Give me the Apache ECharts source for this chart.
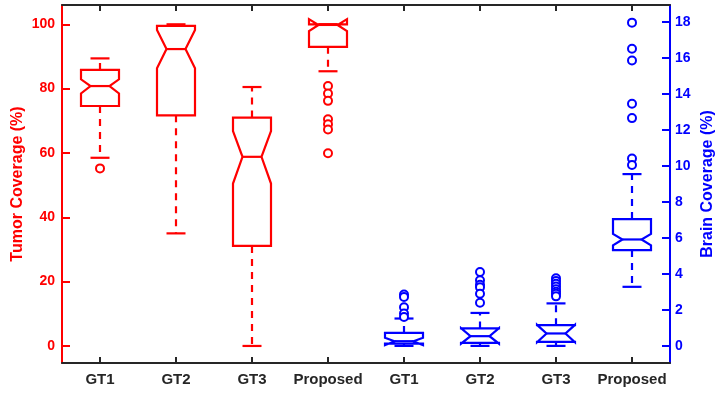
<!DOCTYPE html>
<html>
<head>
<meta charset="utf-8">
<script src="https://cdn.jsdelivr.net/npm/echarts@6/dist/echarts.min.js"></script>
<style>html,body{margin:0;padding:0;background:#fff;}#chart{width:722px;height:395px;}</style>
</head>
<body>
<div id="chart"></div>
<script>
// ---- data ----
const categories = ['GT1', 'GT2', 'GT3', 'Proposed', 'GT1', 'GT2', 'GT3', 'Proposed'];

// Tumor coverage (left axis, red) – first four categories
const tumorLow     = [58.5, 35.0, 0.0, 85.4];
const tumorQ1      = [74.6, 71.7, 31.1, 93.0];
const tumorNotchLo = [78.5, 86.3, 50.5, 97.9];
const tumorMedian  = [80.8, 92.3, 58.8, 99.8];
const tumorNotchHi = [82.9, 98.2, 66.8, 101.6];
const tumorQ3      = [85.8, 99.5, 71.0, 100.0];
const tumorHigh    = [89.4, 100.0, 80.5, 100.0];
const tumorOutliers = [[55.2], [], [], [80.8, 78.5, 76.2, 70.5, 68.9, 67.3, 59.9]];

// Brain coverage (right axis, blue) – last four categories
const brainLow     = [0.0, 0.0, 0.0, 3.28];
const brainQ1      = [0.13, 0.17, 0.22, 5.32];
const brainNotchLo = [0.04, 0.12, 0.20, 5.58];
const brainMedian  = [0.26, 0.54, 0.69, 5.91];
const brainNotchHi = [0.45, 0.99, 1.17, 6.22];
const brainQ3      = [0.72, 0.97, 1.15, 7.04];
const brainHigh    = [1.52, 1.83, 2.36, 9.54];
const brainOutliers = [[2.85, 2.72, 2.15, 1.8, 1.6], [4.1, 3.65, 3.4, 3.25, 2.9, 2.4],
  [3.75, 3.6, 3.45, 3.3, 3.15, 3.0, 2.9, 2.75], [17.95, 16.5, 15.85, 13.45, 12.65, 10.4, 10.05]];

const tumorTicks = [0, 20, 40, 60, 80, 100];
const brainTicks = [0, 2, 4, 6, 8, 10, 12, 14, 16, 18];

// ---- build ----
const RED = '#FF0000', BLUE = '#0000FF', DARK = '#262626';
const FONT = '"Liberation Sans", Arial, Helvetica, sans-serif';

function boxRows(offset, low, q1, nlo, med, nhi, q3, high) {
  return low.map((v, i) => [offset + i, low[i], q1[i], nlo[i], med[i], nhi[i], q3[i], high[i]]);
}
function outlierRows(offset, lists) {
  const rows = [];
  lists.forEach((l, i) => l.forEach(v => rows.push([offset + i, v])));
  return rows;
}

function makeRender(color) {
  return function (params, api) {
    const x = api.value(0);
    const v = k => api.value(k);
    const y = val => api.coord([x, val])[1];
    const cx = api.coord([x, v(4)])[0];
    const band = api.size([1, 0])[0];
    const hw = band * 0.25;
    const nw = hw * 0.5;
    const cw = hw * 0.5;
    const yLow = y(v(1)), yQ1 = y(v(2)), yNlo = y(v(3)), yMed = y(v(4)),
          yNhi = y(v(5)), yQ3 = y(v(6)), yHigh = y(v(7));
    const stroke = { stroke: color, lineWidth: 2.2, fill: null };
    const dash = { stroke: color, lineWidth: 2.2, lineDash: [7, 6], fill: null };
    const children = [];
    children.push({
      type: 'polygon',
      shape: { points: [
        [cx - hw, yQ1], [cx - hw, yNlo], [cx - nw, yMed], [cx - hw, yNhi], [cx - hw, yQ3],
        [cx + hw, yQ3], [cx + hw, yNhi], [cx + nw, yMed], [cx + hw, yNlo], [cx + hw, yQ1]
      ] },
      style: stroke
    });
    children.push({ type: 'line', shape: { x1: cx - nw, y1: yMed, x2: cx + nw, y2: yMed }, style: stroke });
    if (v(7) > v(6)) {
      children.push({ type: 'line', shape: { x1: cx, y1: yQ3, x2: cx, y2: yHigh }, style: dash });
    }
    if (v(1) < v(2)) {
      children.push({ type: 'line', shape: { x1: cx, y1: yQ1, x2: cx, y2: yLow }, style: dash });
    }
    children.push({ type: 'line', shape: { x1: cx - cw, y1: yHigh, x2: cx + cw, y2: yHigh }, style: stroke });
    children.push({ type: 'line', shape: { x1: cx - cw, y1: yLow, x2: cx + cw, y2: yLow }, style: stroke });
    return { type: 'group', children: children };
  };
}

const chart = echarts.init(document.getElementById('chart'), null, { renderer: 'canvas' });

const xCommon = {
  type: 'category',
  data: categories,
  boundaryGap: true,
  axisLine: { show: true, onZero: false, lineStyle: { color: DARK, width: 2 } },
  axisTick: { show: true, inside: true, alignWithLabel: true, interval: 0, length: 6, lineStyle: { color: DARK, width: 2 } },
  splitLine: { show: false }
};

chart.setOption({
  animation: false,
  backgroundColor: '#fff',
  grid: { left: 62, right: 52, top: 5, bottom: 32, containLabel: false, outerBoundsMode: 'none' },
  xAxis: [
    Object.assign({}, xCommon, {
      position: 'bottom',
      axisLabel: { interval: 0, color: DARK, fontWeight: 'bold', fontSize: 15, fontFamily: FONT, margin: 9 }
    }),
    Object.assign({}, xCommon, { position: 'top', axisLabel: { show: false } })
  ],
  yAxis: [
    {
      type: 'value', position: 'left', min: -5.3, max: 106,
      name: 'Tumor Coverage (%)', nameLocation: 'middle', nameGap: 36, nameRotate: 90, nameMoveOverlap: false,
      nameTextStyle: { color: RED, fontWeight: 'bold', fontSize: 16, fontFamily: FONT },
      axisLine: { show: true, lineStyle: { color: RED, width: 2 } },
      axisTick: { show: true, inside: true, length: 8, customValues: tumorTicks, lineStyle: { color: RED, width: 2 } },
      axisLabel: { customValues: tumorTicks, color: RED, fontWeight: 'bold', fontSize: 14, fontFamily: FONT, margin: 7 },
      splitLine: { show: false }
    },
    {
      type: 'value', position: 'right', min: -0.95, max: 18.93,
      name: 'Brain Coverage (%)', nameLocation: 'middle', nameGap: 30, nameRotate: 90, nameMoveOverlap: false,
      nameTextStyle: { color: BLUE, fontWeight: 'bold', fontSize: 16, fontFamily: FONT },
      axisLine: { show: true, lineStyle: { color: BLUE, width: 2 } },
      axisTick: { show: true, inside: true, length: 8, customValues: brainTicks, lineStyle: { color: BLUE, width: 2 } },
      axisLabel: { customValues: brainTicks, color: BLUE, fontWeight: 'bold', fontSize: 14, fontFamily: FONT, margin: 5 },
      splitLine: { show: false }
    }
  ],
  series: [
    {
      type: 'custom', name: 'Tumor', xAxisIndex: 0, yAxisIndex: 0,
      renderItem: makeRender(RED),
      encode: { x: 0, y: [1, 2, 3, 4, 5, 6, 7] },
      data: boxRows(0, tumorLow, tumorQ1, tumorNotchLo, tumorMedian, tumorNotchHi, tumorQ3, tumorHigh),
      z: 3
    },
    {
      type: 'custom', name: 'Brain', xAxisIndex: 0, yAxisIndex: 1,
      renderItem: makeRender(BLUE),
      encode: { x: 0, y: [1, 2, 3, 4, 5, 6, 7] },
      data: boxRows(4, brainLow, brainQ1, brainNotchLo, brainMedian, brainNotchHi, brainQ3, brainHigh),
      z: 3
    },
    {
      type: 'scatter', name: 'Tumor outliers', xAxisIndex: 0, yAxisIndex: 0,
      symbol: 'circle', symbolSize: 8,
      itemStyle: { color: '#fff', borderColor: RED, borderWidth: 2, opacity: 1 },
      data: outlierRows(0, tumorOutliers), z: 4
    },
    {
      type: 'scatter', name: 'Brain outliers', xAxisIndex: 0, yAxisIndex: 1,
      symbol: 'circle', symbolSize: 8,
      itemStyle: { color: '#fff', borderColor: BLUE, borderWidth: 2, opacity: 1 },
      data: outlierRows(4, brainOutliers), z: 4
    }
  ]
});
</script>
</body>
</html>
